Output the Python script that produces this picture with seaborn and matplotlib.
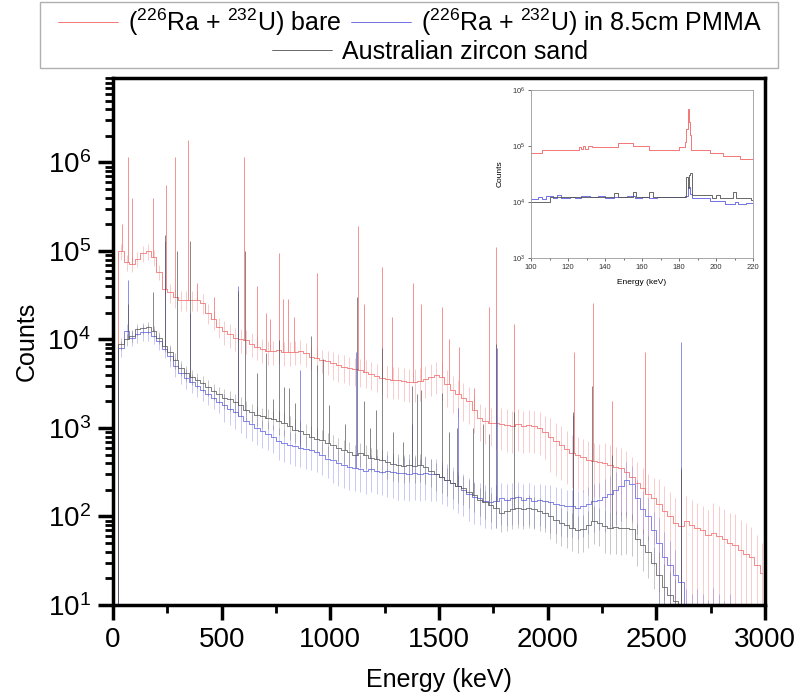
import numpy as np
import pandas as pd
import seaborn as sns
import matplotlib.pyplot as plt
from matplotlib.lines import Line2D
from matplotlib.patches import Rectangle
from matplotlib.ticker import LogLocator, MultipleLocator, NullFormatter

# ---- data ----
BIN = 25  # keV bin width of the tabulated continuum
energy = np.arange(BIN / 2, 3000, BIN)

red_counts = [
    5, 1.0e5, 7.5e4, 7.2e4, 8.2e4, 9.5e4, 1.0e5, 8.5e4, 5.8e4, 3.7e4,
    3.4e4, 3.0e4, 2.8e4, 2.8e4, 2.8e4, 2.8e4, 2.6e4, 2.0e4, 1.7e4, 1.4e4,
    1.25e4, 1.15e4, 1.05e4, 1.0e4, 9.8e3, 9.0e3, 8.3e3, 7.8e3, 7.4e3, 7.4e3,
    7.6e3, 7.2e3, 7.2e3, 7.3e3, 7.5e3, 7.0e3, 6.4e3, 6.2e3, 5.9e3, 5.7e3,
    5.4e3, 5.1e3, 4.9e3, 4.7e3, 4.6e3, 4.5e3, 4.3e3, 4.1e3, 3.9e3, 3.7e3,
    3.6e3, 3.5e3, 3.5e3, 3.4e3, 3.3e3, 3.3e3, 3.4e3, 3.6e3, 3.8e3, 4.0e3,
    3.8e3, 3.1e3, 2.7e3, 2.4e3, 2.2e3, 2.0e3, 1.6e3, 1.3e3, 1.2e3, 1.15e3,
    1.15e3, 1.12e3, 1.08e3, 1.05e3, 1.1e3, 1.05e3, 1.07e3, 1.05e3, 1.0e3, 9.0e2,
    8.0e2, 7.2e2, 6.5e2, 5.8e2, 5.2e2, 5.0e2, 4.7e2, 4.4e2, 4.2e2, 4.1e2,
    4.0e2, 3.8e2, 3.6e2, 3.5e2, 3.2e2, 2.8e2, 2.4e2, 2.1e2, 1.8e2, 1.6e2,
    1.4e2, 1.15e2, 1.0e2, 85, 78, 90, 80, 75, 70, 62,
    65, 60, 55, 50, 48, 42, 38, 35, 28, 23,
]
blue_counts = [
    5, 8.0e3, 1.25e4, 1.05e4, 1.15e4, 1.2e4, 1.2e4, 1.1e4, 9.5e3, 7.8e3,
    6.5e3, 5.0e3, 4.2e3, 3.7e3, 3.3e3, 3.0e3, 2.7e3, 2.4e3, 2.2e3, 1.95e3,
    1.8e3, 1.65e3, 1.5e3, 1.35e3, 1.2e3, 1.1e3, 1.0e3, 9.2e2, 8.6e2, 8.0e2,
    7.2e2, 6.8e2, 6.5e2, 6.2e2, 6.0e2, 5.8e2, 5.6e2, 5.3e2, 4.9e2, 4.5e2,
    4.3e2, 4.0e2, 3.8e2, 3.6e2, 3.5e2, 3.4e2, 3.3e2, 3.4e2, 3.3e2, 3.2e2,
    3.3e2, 3.2e2, 3.1e2, 3.1e2, 3.0e2, 3.1e2, 3.0e2, 3.1e2, 3.0e2, 3.0e2,
    2.8e2, 2.6e2, 2.4e2, 2.2e2, 2.0e2, 1.8e2, 1.65e2, 1.6e2, 1.5e2, 1.45e2,
    1.5e2, 1.6e2, 1.55e2, 1.6e2, 1.65e2, 1.55e2, 1.6e2, 1.5e2, 1.55e2, 1.5e2,
    1.45e2, 1.4e2, 1.35e2, 1.3e2, 1.3e2, 1.25e2, 1.3e2, 1.4e2, 1.5e2, 1.55e2,
    1.65e2, 1.8e2, 2.0e2, 2.2e2, 2.6e2, 2.3e2, 1.6e2, 1.2e2, 1.0e2, 70,
    50, 35, 28, 22, 18, 8, 7, 8, 7, 6,
    7, 6, 5, 6, 3, 3, 3, 3, 3, 3,
]
black_counts = [
    5, 9.0e3, 1.0e4, 1.1e4, 1.3e4, 1.35e4, 1.37e4, 1.25e4, 1.05e4, 8.5e3,
    7.2e3, 5.8e3, 4.8e3, 4.2e3, 3.8e3, 3.5e3, 3.2e3, 2.9e3, 2.6e3, 2.4e3,
    2.2e3, 2.1e3, 1.95e3, 1.8e3, 1.6e3, 1.5e3, 1.4e3, 1.35e3, 1.3e3, 1.25e3,
    1.2e3, 1.15e3, 1.05e3, 9.6e2, 9.2e2, 8.6e2, 8.0e2, 7.6e2, 7.3e2, 6.8e2,
    6.4e2, 6.0e2, 5.6e2, 5.3e2, 5.0e2, 5.2e2, 4.9e2, 4.6e2, 4.5e2, 4.3e2,
    4.1e2, 3.9e2, 3.8e2, 3.7e2, 3.8e2, 3.7e2, 3.8e2, 3.6e2, 3.3e2, 3.0e2,
    2.8e2, 2.6e2, 2.4e2, 2.2e2, 2.1e2, 1.9e2, 1.75e2, 1.55e2, 1.45e2, 1.35e2,
    1.25e2, 1.1e2, 1.15e2, 1.2e2, 1.25e2, 1.2e2, 1.25e2, 1.2e2, 1.15e2, 1.1e2,
    1.0e2, 92, 85, 80, 75, 70, 72, 80, 90, 85,
    78, 75, 76, 74, 75, 72, 55, 48, 40, 30,
    22, 16, 13, 11, 10, 4, 4, 4, 4, 4,
    4, 4, 4, 4, 4, 4, 4, 4, 4, 4,
]

# relative error per 250 keV segment
red_err = [0.2, 0.25, 0.3, 0.3, 0.35, 0.4, 0.45, 0.5, 0.6, 0.7, 0.9, 1.2]
blue_err = [0.2, 0.25, 0.35, 0.4, 0.45, 0.5, 0.5, 0.5, 0.55, 0.6, 0.9, 1.2]
black_err = [0.15, 0.2, 0.25, 0.3, 0.3, 0.35, 0.35, 0.4, 0.45, 0.5, 0.8, 1.0]

# photo-peaks: (energy keV, peak counts)
red_peaks = [
    (41, 2.0e5), (69, 1.15e6), (87, 4.0e5), (186, 4.0e5), (242, 5.5e5),
    (287, 1.15e6), (347, 1.8e6), (388, 4.4e4), (465, 3.0e4), (604, 1.15e6),
    (662, 4.0e4), (705, 2.0e4), (722, 1.7e4), (766, 9.6e4), (780, 2.9e4),
    (806, 2.9e4), (835, 1.8e4), (937, 5.6e4), (1125, 1.9e5), (1155, 2.5e4),
    (1240, 6.6e4), (1283, 1.8e4), (1379, 4.3e4), (1415, 2.5e4), (1512, 2.3e4),
    (1545, 1.0e4), (1590, 8.2e3), (1660, 2.8e3), (1731, 2.3e4), (1764, 1.1e5),
    (1847, 1.5e4), (2122, 7.2e3), (2207, 2.6e4), (2295, 2.0e3), (2450, 7.2e3),
    (2614, 3.3e2),
]
blue_peaks = [
    (69, 4.7e4), (240, 1.3e5), (352, 2.0e4), (577, 4.0e4), (860, 4.5e3),
    (1117, 7.2e3), (1376, 1.1e3), (1589, 1.7e3), (1766, 8.0e3), (2115, 1.4e3),
    (2614, 9.3e3),
]
black_peaks = [
    (69, 2.5e4), (186, 3.4e4), (240, 1.5e5), (295, 1.0e5), (352, 1.3e5),
    (577, 3.5e4), (609, 1.0e5), (663, 4.2e3), (705, 7.0e3), (735, 2.1e3),
    (766, 9.8e3), (785, 2.9e3), (808, 2.8e3), (838, 1.9e3), (911, 1.1e4),
    (937, 5.1e3), (966, 6.0e3), (996, 1.8e3), (1068, 1.1e3), (1122, 3.0e4),
    (1155, 2.0e3), (1183, 1.0e3), (1211, 1.6e3), (1240, 8.0e3), (1289, 9.0e2),
    (1335, 7.0e2), (1376, 3.0e3), (1400, 2.4e3), (1418, 2.7e3), (1514, 2.5e3),
    (1545, 9.0e2), (1585, 1.0e3), (1657, 1.0e3), (1703, 1.1e3), (1731, 8.5e2),
    (1764, 9.0e3), (1846, 1.5e3), (2117, 1.5e3), (2204, 3.0e3), (2295, 5.0e2),
    (2614, 3.5e2),
]

# inset (100-220 keV), step edges and values
inset_red_e = [100, 106, 126, 127, 128, 129, 131, 133, 147, 155, 164, 180, 183, 184, 184.6, 185.3, 186, 186.7, 197, 204, 213, 220]
inset_red_c = [7.5e4, 8.5e4, 9.6e4, 9.0e4, 9.8e4, 8.8e4, 9.8e4, 9.6e4, 1.13e5, 1.0e5, 8.5e4, 9.5e4, 1.2e5, 2.0e5, 4.6e5, 2.7e5, 1.6e5, 8.5e4, 7.5e4, 6.6e4, 5.8e4, 5.8e4]
inset_blk_e = [100, 110, 145, 147, 155, 157, 164, 166, 184, 184.8, 185.6, 186.2, 187, 198, 200, 202, 209, 211, 219, 220]
inset_blk_c = [1.0e4, 1.23e4, 1.45e4, 1.23e4, 1.5e4, 1.25e4, 1.5e4, 1.25e4, 2.8e4, 1.8e4, 3.0e4, 3.3e4, 1.34e4, 1.2e4, 1.35e4, 1.2e4, 1.5e4, 1.2e4, 1.1e4, 1.1e4]
inset_blu_e = [100, 104, 106, 108, 112, 114, 116, 121, 124, 127, 132, 136, 140, 145, 152, 156, 160, 164, 168, 180, 183, 184.8, 185.8, 187, 197, 205, 210, 212, 216, 220]
inset_blu_c = [1.15e4, 1.25e4, 1.15e4, 1.3e4, 1.2e4, 1.35e4, 1.2e4, 1.25e4, 1.2e4, 1.28e4, 1.22e4, 1.3e4, 1.2e4, 1.25e4, 1.3e4, 1.2e4, 1.25e4, 1.2e4, 1.22e4, 1.25e4, 1.3e4, 1.85e4, 1.4e4, 1.2e4, 1.04e4, 9.3e3, 9.8e3, 9.3e3, 9.6e3, 9.3e3]

labels = [r'($^{226}$Ra + $^{232}$U) bare',
          r'($^{226}$Ra + $^{232}$U) in 8.5cm PMMA',
          'Australian zircon sand']
colors = ['#f06060', '#5a5ae0', '#505050']

# ---- plotting ----
sns.set_theme(style='ticks')
plt.rcParams['font.family'] = ['Liberation Sans', 'DejaVu Sans']
plt.rcParams['mathtext.default'] = 'regular'
plt.rcParams['text.color'] = 'black'
plt.rcParams['axes.labelcolor'] = 'black'
plt.rcParams['xtick.color'] = 'black'
plt.rcParams['ytick.color'] = 'black'

fig = plt.figure(figsize=(7.96, 6.96), dpi=100)
ax = fig.add_axes([113 / 796, 1 - 605 / 696, (765 - 113) / 796, (605 - 78) / 696])

series = [(labels[0], red_counts, red_err, red_peaks, colors[0]),
          (labels[1], blue_counts, blue_err, blue_peaks, colors[1]),
          (labels[2], black_counts, black_err, black_peaks, colors[2])]

for name, counts, err, peaks, col in series:
    counts = np.asarray(counts, dtype=float)
    frac = np.asarray(err)[(np.arange(len(counts)) // 10)]
    lo = np.clip(counts * (1 - frac), 1, None)
    hi = counts * (1 + frac)
    ax.vlines(energy, lo, hi, color=col, lw=0.5, alpha=0.45)
    df = pd.DataFrame({'energy': energy, 'counts': counts})
    sns.lineplot(data=df, x='energy', y='counts', color=col, lw=0.6,
                 drawstyle='steps-mid', estimator=None, sort=False, ax=ax, alpha=0.85)
    pk_e = [p[0] for p in peaks]
    pk_top = [p[1] for p in peaks]
    pk_base = [counts[min(int(e // BIN), len(counts) - 1)] for e in pk_e]
    ax.vlines(pk_e, pk_base, pk_top, color=col, lw=0.6, alpha=0.8)

ax.set_yscale('log')
ax.set_xlim(0, 3000)
ax.set_ylim(10, 9e6)
ax.xaxis.set_major_locator(MultipleLocator(500))
ax.xaxis.set_minor_locator(MultipleLocator(250))
ax.yaxis.set_major_locator(LogLocator(base=10, numticks=10))
ax.yaxis.set_minor_locator(LogLocator(base=10, subs=np.arange(2, 10), numticks=20))
ax.yaxis.set_minor_formatter(NullFormatter())
ax.tick_params(axis='both', which='major', direction='out', length=11, width=2.5,
               labelsize=20, pad=5)
ax.tick_params(axis='both', which='minor', direction='out', length=6, width=2)
for sp in ax.spines.values():
    sp.set_linewidth(2.5)
    sp.set_color('black')
ax.set_xlabel('Energy (keV)', fontsize=18, labelpad=11)
ax.set_ylabel('Counts', fontsize=18, labelpad=6)

# ---- inset ----
ins = fig.add_axes([531 / 796, 1 - 258 / 696, (753 - 531) / 796, (258 - 90) / 696])
ins.set_facecolor('white')
for e_arr, c_arr, col in [(inset_red_e, inset_red_c, colors[0]),
                          (inset_blu_e, inset_blu_c, colors[1]),
                          (inset_blk_e, inset_blk_c, colors[2])]:
    dfi = pd.DataFrame({'energy': e_arr, 'counts': c_arr})
    sns.lineplot(data=dfi, x='energy', y='counts', color=col, lw=0.6,
                 drawstyle='steps-post', estimator=None, sort=False, ax=ins)
ins.set_yscale('log')
ins.set_xlim(100, 220)
ins.set_ylim(1e3, 1e6)
ins.xaxis.set_major_locator(MultipleLocator(20))
ins.xaxis.set_minor_locator(MultipleLocator(10))
ins.yaxis.set_major_locator(LogLocator(base=10, numticks=5))
ins.yaxis.set_minor_locator(LogLocator(base=10, subs=[], numticks=5))
ins.tick_params(which='both', direction='out', length=2, width=0.5,
                labelsize=5.5, colors='#333333', pad=2)
ins.tick_params(which='minor', length=1.5)
for sp in ins.spines.values():
    sp.set_linewidth(0.6)
    sp.set_color('#999999')
ins.set_xlabel('Energy (keV)', fontsize=6, labelpad=6)
ins.set_ylabel('Counts', fontsize=6, labelpad=6)

# ---- legend box above the axes ----
handles = [Line2D([], [], color=c, lw=0.6) for c in colors]
fig.patches.append(Rectangle((40 / 796, 1 - 68 / 696), 738 / 796, 66 / 696,
                             transform=fig.transFigure, fill=False,
                             edgecolor='#b0b0b0', lw=1.0))
leg_font = ['Liberation Sans', 'DejaVu Sans']
leg1 = fig.legend(handles[:2], labels[:2], loc='center', ncol=2,
                  bbox_to_anchor=(0.515, 1 - 22 / 696), frameon=False,
                  prop={'family': leg_font, 'size': 18}, handlelength=2.4,
                  columnspacing=0.4, handletextpad=0.4, borderpad=0)
leg2 = fig.legend(handles[2:], labels[2:], loc='center', ncol=1,
                  bbox_to_anchor=(0.54, 1 - 52 / 696), frameon=False,
                  prop={'family': leg_font, 'size': 18}, handlelength=2.4,
                  handletextpad=0.4, borderpad=0)

fig.savefig('out.png', dpi=100)
